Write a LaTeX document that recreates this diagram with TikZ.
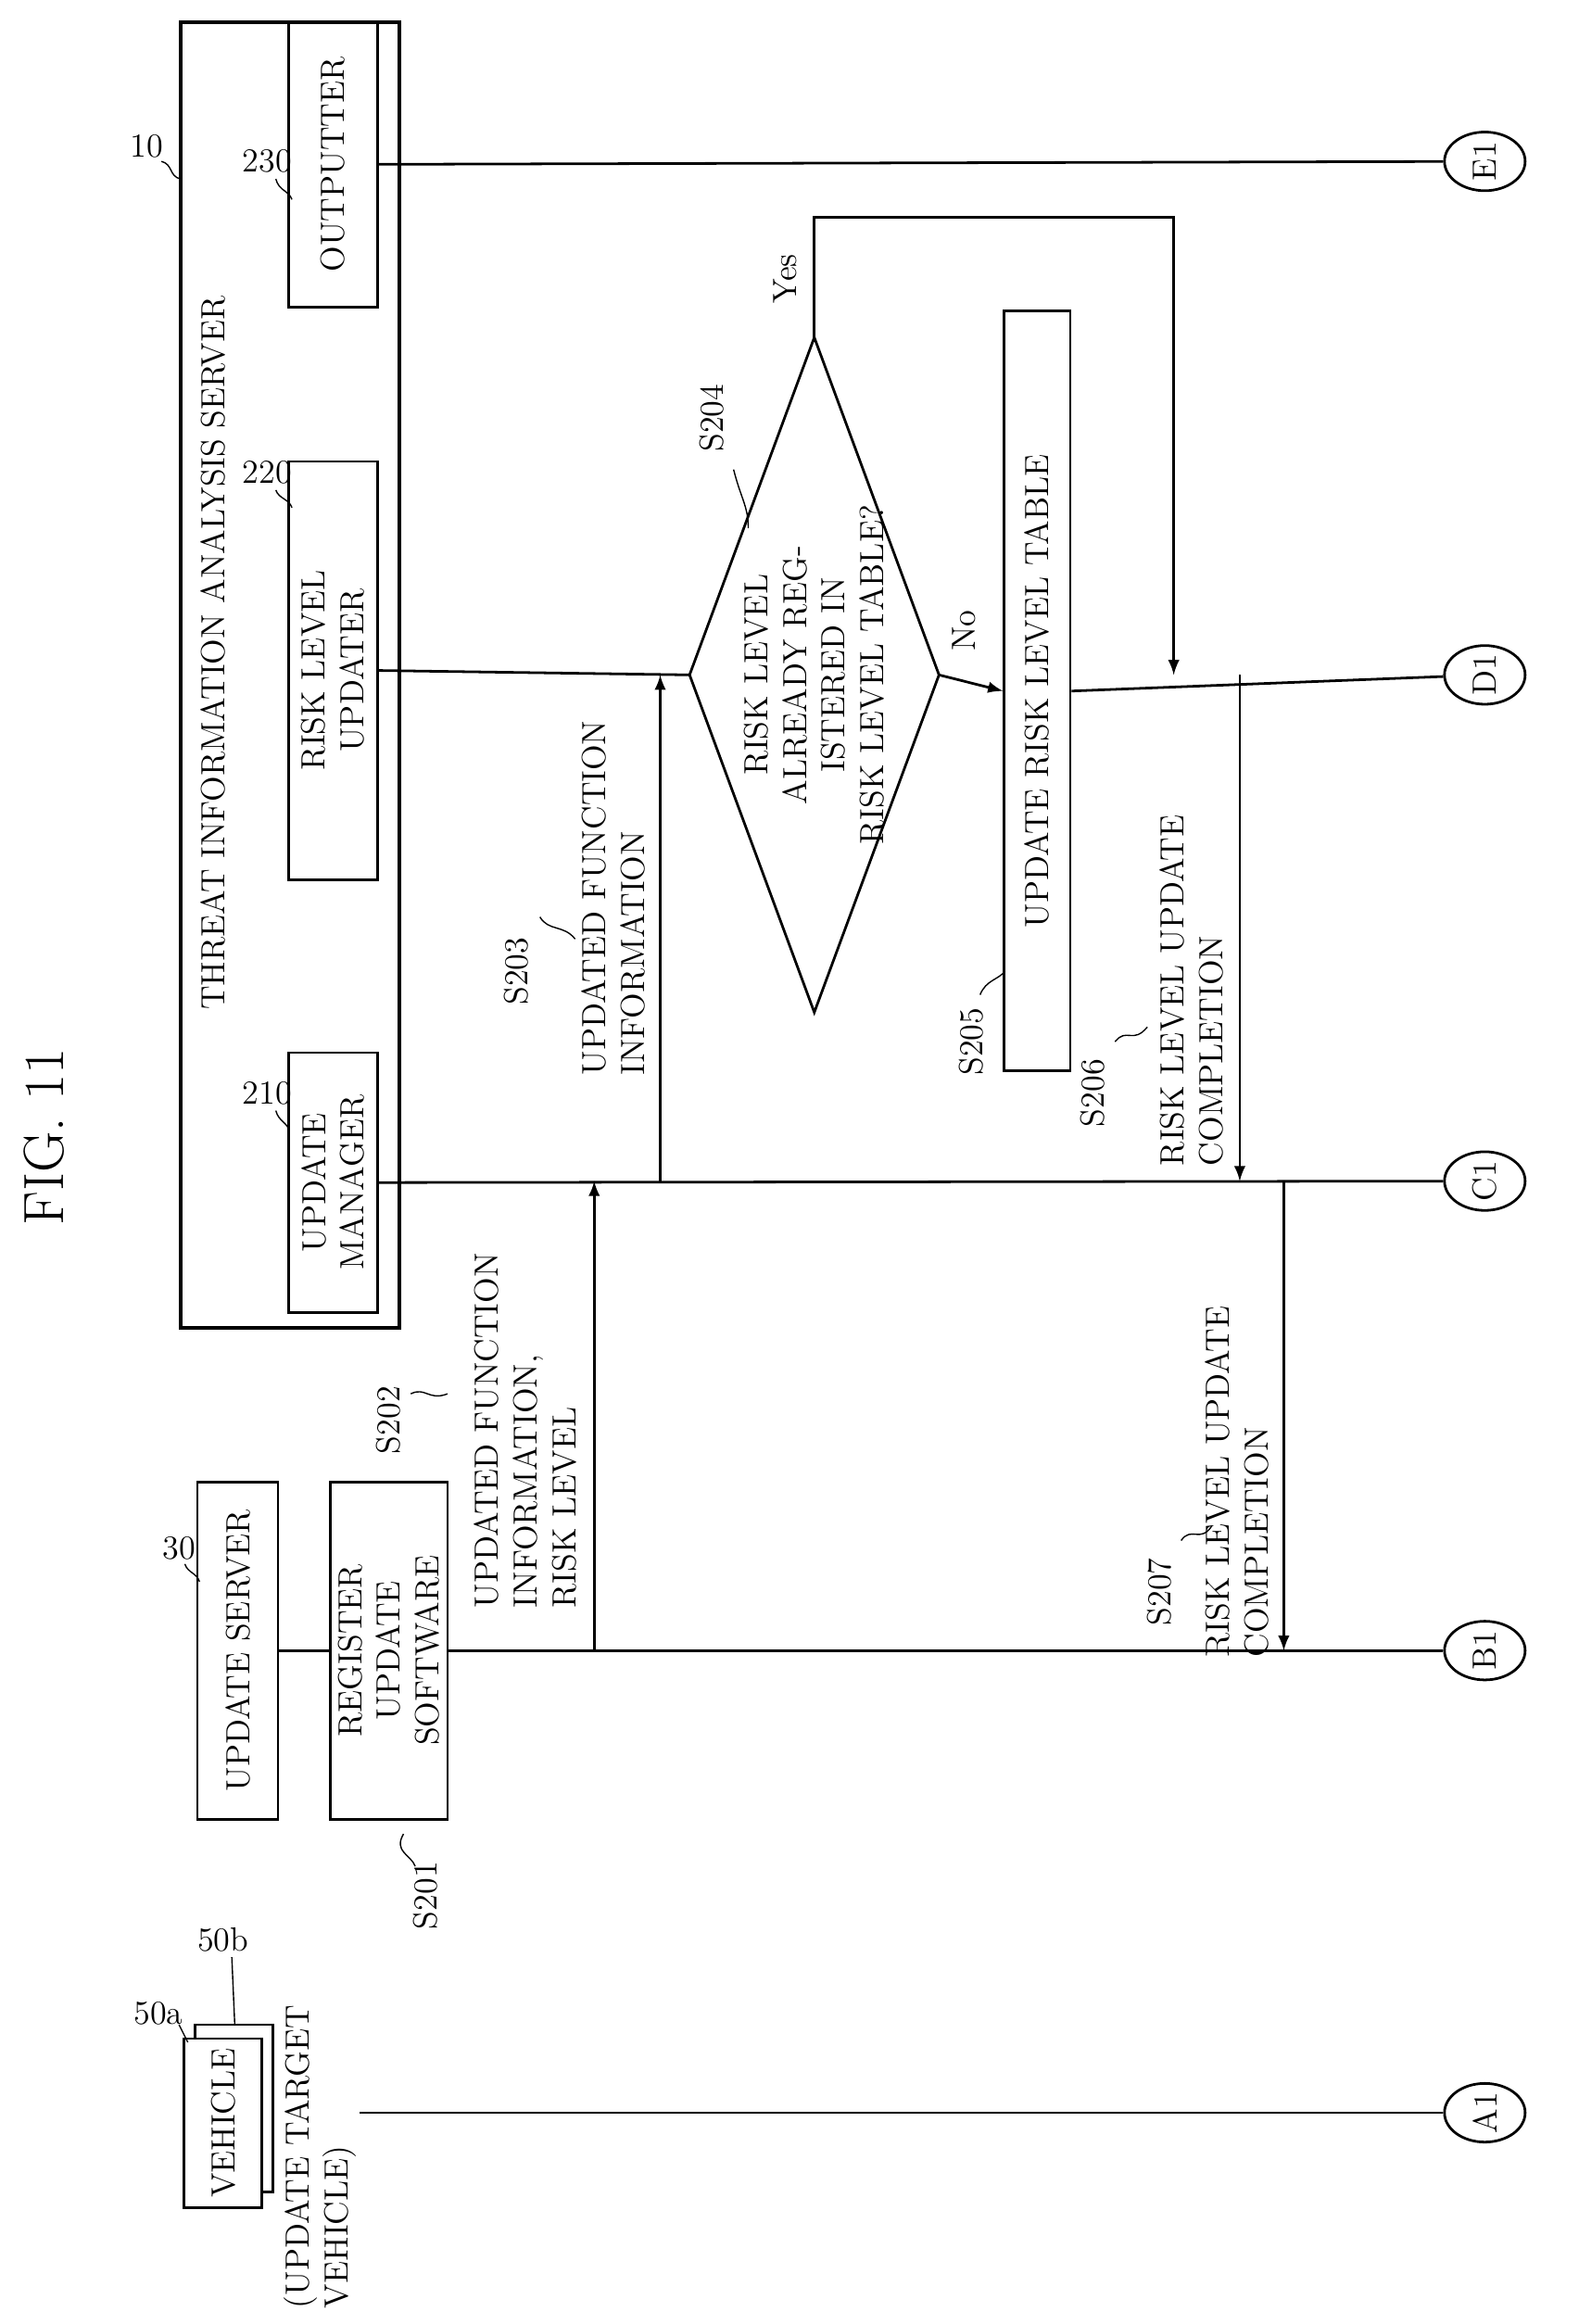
\documentclass[tikz,border=0pt]{standalone}
\usepackage{amsmath}
\usetikzlibrary{shapes.geometric}

\tikzset{
	box/.style={rectangle,draw,line width=1pt,rotate=90,align=center,inner sep=2pt},
	lbl/.style={rotate=90,align=center,inner sep=1pt},
	term/.style={ellipse,draw,line width=1pt,rotate=90,inner sep=0pt,minimum width=0.8cm,minimum height=1.1cm},
	lead/.style={line width=0.5pt},
}

\begin{document}
\begin{tikzpicture}[x=0.02cm,y=-0.02cm,line width=1pt,font=\fontsize{13}{15}\selectfont,>=latex]
	
		\useasboundingbox (0,0) rectangle (1076,1584);
		\node[lbl,font=\fontsize{22}{24}\selectfont] (fig) at (30,775) {FIG. 11};
		
		% threat information analysis server
		\draw[line width=1.5pt] (123,15) rectangle (272,905);
		\node[lbl] (srv) at (145,445) {THREAT INFORMATION ANALYSIS SERVER};
		\node (n10) at (100,100) {10};
		\draw[lead] (110,110) .. controls (118,112) and (115,120) .. (123,122);
		\node[box,minimum width=3.54cm,minimum height=1.22cm] (mgr) at (227,806) {UPDATE\\MANAGER};
		\node[box,minimum width=5.7cm,minimum height=1.22cm] (upd) at (227,457) {RISK LEVEL\\UPDATER};
		\node[box,minimum width=3.9cm,minimum height=1.22cm] (out) at (227,112) {OUTPUTTER};
		\node (n210) at (182,745) {210};
		\draw[lead] (188,757) .. controls (190,765) and (197,765) .. (197,772);
		\node (n220) at (182,322) {220};
		\draw[lead] (188,334) .. controls (190,340) and (197,340) .. (199,346);
		\node (n230) at (182,110) {230};
		\draw[lead] (188,122) .. controls (190,130) and (197,130) .. (199,136);
		
		% update server
		\node[box,minimum width=4.6cm,minimum height=1.1cm] (usv) at (162,1125) {UPDATE SERVER};
		\node (n30) at (122,1055) {30};
		\draw[lead] (126,1066) .. controls (128,1072) and (134,1072) .. (136,1078);
		\node[box,minimum width=4.6cm,minimum height=1.6cm] (reg) at (265,1125) {REGISTER\\UPDATE\\SOFTWARE};
		\node[lbl] (s201) at (290,1292) {S201};
		\draw[lead] (275,1250) .. controls (268,1262) and (280,1264) .. (283,1272);
		
		% vehicles
		\draw[fill=white] (133,1380) rectangle (186,1494);
		\node[box,fill=white,minimum width=2.3cm,minimum height=1.06cm] (veh) at (152,1447) {VEHICLE};
		\node (n50a) at (108,1372) {50a};
		\node (n50b) at (152,1322) {50b};
		\draw[lead] (122,1380) -- (128,1392);
		\draw[lead] (158,1334) -- (160,1380);
		\node[lbl,align=left] (vtx) at (218,1470) {(UPDATE TARGET\\VEHICLE)};
		
		% terminals
		\node[term] (A1) at (1012,1440) {A1};
		\node[term] (B1) at (1012,1125) {B1};
		\node[term] (C1) at (1012,805) {C1};
		\node[term] (D1) at (1012,460) {D1};
		\node[term] (E1) at (1012,110) {E1};
		
		% lifelines
		\draw (245,1440) -- (A1);
		\draw (usv.south) -- (reg.north);
		\draw (reg.south) -- (B1);
		\draw (mgr.south) -- (C1);
		\draw (out.south) -- (E1);
		
		% decision
		\coordinate (dl) at (470,460);
		\coordinate (dt) at (555,230);
		\coordinate (dr) at (640,460);
		\coordinate (db) at (555,690);
		\draw (dl) -- (dt) -- (dr) -- (db) -- cycle;
		\node[lbl,text width=5cm] (dtx) at (555,460) {RISK LEVEL\\ALREADY REGISTERED IN\\RISK LEVEL TABLE?};
		\node[lbl] (s204) at (485,285) {S204};
		\draw[lead] (500,320) .. controls (505,340) and (510,345) .. (510,360);
		\draw (upd.south) -- (dl);
		\node[box,minimum width=10.36cm,minimum height=0.9cm] (tbl) at (707,471) {UPDATE RISK LEVEL TABLE};
		\node[lbl] (s205) at (662,710) {S205};
		\draw[lead] (668,678) .. controls (672,668) and (680,668) .. (685,662);
		\draw[->] (dr) -- (tbl.north);
		\node (no) at (657,430) {\rotatebox{90}{No}};
		\coordinate (yc1) at (555,148);
		\coordinate (yc2) at (800,148);
		\coordinate (yc3) at (800,460);
		\draw[->] (dt) -- (yc1) -- (yc2) -- (yc3);
		\node (yes) at (535,190) {\rotatebox{90}{Yes}};
		\draw (tbl.south) -- (D1);
		
		% messages
		\coordinate (m2a) at (405,1125);
		\coordinate (m2b) at (405,805);
		\draw[->] (m2a) -- (m2b);
		\node[lbl,align=left] (m2t) at (358,975) {UPDATED FUNCTION\\INFORMATION,\\RISK LEVEL};
		\node[lbl] (s202) at (265,968) {S202};
		\draw[lead] (280,950) .. controls (290,945) and (292,955) .. (305,950);
		\coordinate (m3a) at (450,805);
		\coordinate (m3b) at (450,460);
		\draw[->] (m3a) -- (m3b);
		\node[lbl,align=left] (m3t) at (418,612) {UPDATED FUNCTION\\INFORMATION};
		\node[lbl] (s203) at (352,662) {S203};
		\draw[lead] (368,625) .. controls (374,635) and (384,630) .. (392,640);
		\coordinate (m6a) at (845,460);
		\coordinate (m6b) at (845,805);
		\draw[->] (m6a) -- (m6b);
		\node[lbl,align=left] (m6t) at (812,675) {RISK LEVEL UPDATE\\COMPLETION};
		\node[lbl] (s206) at (745,745) {S206};
		\draw[lead] (760,710) .. controls (768,700) and (772,712) .. (782,700);
		\coordinate (m7a) at (875,805);
		\coordinate (m7b) at (875,1125);
		\draw[->] (m7a) -- (m7b);
		\node[lbl,align=left] (m7t) at (843,1010) {RISK LEVEL UPDATE\\COMPLETION};
		\node[lbl] (s207) at (790,1085) {S207};
		\draw[lead] (805,1050) .. controls (812,1040) and (818,1052) .. (826,1040);
		
	\end{tikzpicture}
\end{document}
